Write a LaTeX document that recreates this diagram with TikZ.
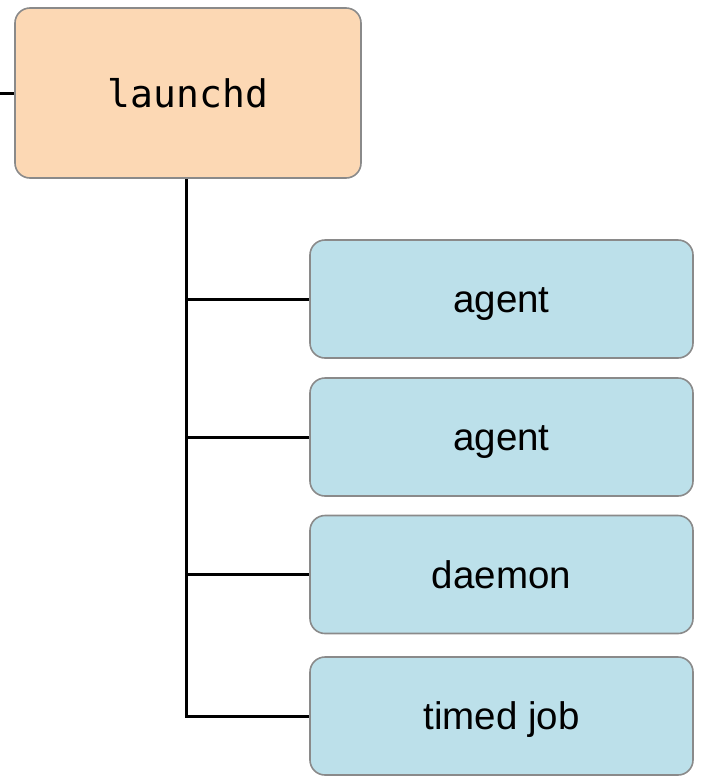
\documentclass[tikz,border=0pt]{standalone}
\usepackage{fontspec}
\setmainfont{Liberation Sans}
\newfontfamily\monofont{DejaVu Sans Mono}
\definecolor{rootfill}{HTML}{FCD8B4}
\definecolor{jobfill}{HTML}{BCE0EA}
\definecolor{boxline}{HTML}{8A8A8A}
\begin{document}
\begin{tikzpicture}[x=1pt,y=-1pt,
  box/.style={draw=boxline, line width=1.6pt, rounded corners=15pt, inner sep=0pt},
  rootbox/.style={box, fill=rootfill, minimum width=346pt, minimum height=170pt,
    font=\monofont\fontsize{38}{42}\selectfont},
  jobbox/.style={box, fill=jobfill, minimum width=383pt, minimum height=118pt,
    text height=35pt, text depth=8pt,
    font=\fontsize{38.5}{44}\selectfont},
  link/.style={line width=3pt, black}]
\useasboundingbox (0,0) rectangle (704,777);

\node[rootbox] (root) at (188,93) {launchd};
\node[jobbox] (a1) at (501.5,299) {agent};
\node[jobbox] (a2) at (501.5,437) {agent};
\node[jobbox] (d1) at (501.5,574.5) {daemon};
\node[jobbox] (t1) at (501.5,716) {timed job};

\coordinate (in) at (0,93);
\coordinate (trunk) at (186,0);

\draw[link] (in) -- (root.west);
\draw[link] (trunk |- root.south) -- (trunk |- t1.west) -- (t1.west);
\draw[link] (trunk |- a1.west) -- (a1.west);
\draw[link] (trunk |- a2.west) -- (a2.west);
\draw[link] (trunk |- d1.west) -- (d1.west);
\end{tikzpicture}
\end{document}
